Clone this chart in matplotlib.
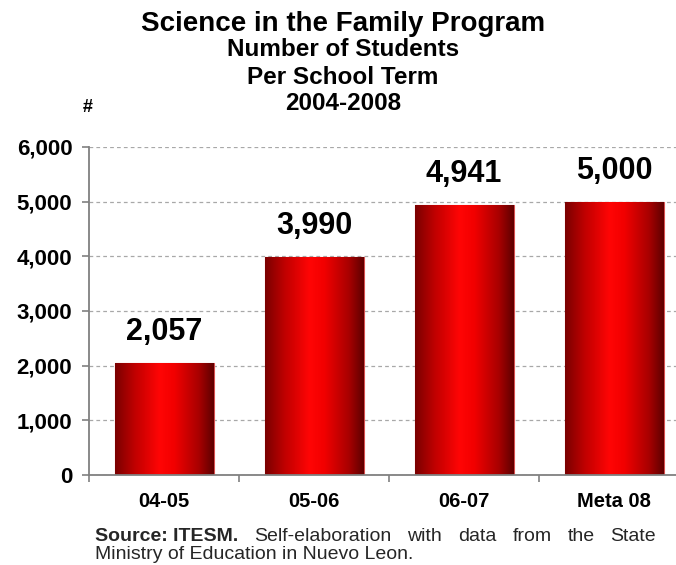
import matplotlib
matplotlib.use("Agg")
import matplotlib.pyplot as plt
import numpy as np
from matplotlib.colors import LinearSegmentedColormap
from matplotlib.ticker import FixedLocator, FuncFormatter

categories = ["04-05", "05-06", "06-07", "Meta 08"]
students = [2057, 3990, 4941, 5000]
yticks = [0, 1000, 2000, 3000, 4000, 5000, 6000]
title_lines = ["Science in the Family Program", "Number of Students", "Per School Term", "2004-2008"]
source_bold = "Source: ITESM."
source_line1 = "Self-elaboration with data from the State"
source_line2 = "Ministry of Education in Nuevo Leon."

plt.rcParams['font.family'] = ['Liberation Sans', 'DejaVu Sans']

W, H = 676, 565
fig = plt.figure(figsize=(W / 100, H / 100), dpi=100)
ax = fig.add_axes([89 / W, (H - 475) / H, (W - 89) / W, (475 - 147) / H])

x = np.arange(len(categories))
bars = ax.bar(x, students, width=0.66, color='#e00000', edgecolor='#d85050',
              linewidth=0.8, zorder=2)

cmap = LinearSegmentedColormap.from_list(
    'redgrad', [(0.0, '#7a0000'), (0.2, '#c00000'), (0.45, '#ff0505'),
                (0.6, '#f20000'), (0.85, '#a80000'), (1.0, '#5e0000')])
grad = np.linspace(0, 1, 256).reshape(1, -1)
for b in bars:
    bx, bw, bh = b.get_x(), b.get_width(), b.get_height()
    im = ax.imshow(grad, extent=[bx, bx + bw, 0, bh], aspect='auto', cmap=cmap,
                   zorder=2.1, interpolation='bilinear')
    im.set_clip_path(b)
    ax.annotate(f"{bh:,.0f}", xy=(bx + bw / 2, bh), xytext=(0, 16.5),
                textcoords='offset points', ha='center', va='baseline',
                fontsize=22, fontweight='bold', color='black', zorder=5)

ax.set_xlim(-0.5, -0.5 + (W - 89) / 150)
ax.set_ylim(0, 6000)

ax.set_yticks(yticks)
ax.yaxis.set_major_formatter(FuncFormatter(lambda v, p: f"{v:,.0f}"))
ax.tick_params(axis='y', direction='out', length=5, width=1.2, color='#808080',
               labelsize=16, pad=7)
for t in ax.get_yticklabels():
    t.set_fontweight('bold')

ax.set_xticks(x)
ax.set_xticklabels(categories, fontsize=14.5, fontweight='bold')
ax.tick_params(axis='x', which='major', length=0, pad=12)
ax.xaxis.set_minor_locator(FixedLocator(np.arange(len(categories)) - 0.5))
ax.tick_params(axis='x', which='minor', direction='out', length=5, width=1.2,
               color='#808080')

for s in ['top', 'right']:
    ax.spines[s].set_visible(False)
for s in ['left', 'bottom']:
    ax.spines[s].set_color('#808080')
    ax.spines[s].set_linewidth(1.3)

ax.yaxis.grid(True, linestyle=(0, (3, 2.5)), color='#a8a8a8', linewidth=0.9, zorder=0)
ax.set_axisbelow(True)

# Titles
ys = [24, 50, 77, 104]
sizes = [20, 17.5, 17.5, 17.5]
for line, yy, sz in zip(title_lines, ys, sizes):
    fig.text(343 / W, 1 - yy / H, line, ha='center', va='center', fontsize=sz,
             fontweight='bold', color='black')
fig.text(88 / W, 1 - 107 / H, "#", ha='center', va='center', fontsize=13,
         fontweight='bold')

# Source note, justified first line
src_color = '#262626'
fs = 14
x0, x1 = 95, 656
y1, y2 = 541, 559
fig.canvas.draw()
renderer = fig.canvas.get_renderer()
words = [(source_bold, 'bold')] + [(w, 'normal') for w in source_line1.split()]
texts = []
for w, wt in words:
    t = fig.text(0, 1 - y1 / H, w, ha='left', va='baseline', fontsize=fs,
                 fontweight=wt, color=src_color)
    texts.append(t)
widths = [t.get_window_extent(renderer).width for t in texts]
gap = (x1 - x0 - sum(widths)) / (len(texts) - 1)
cur = x0
for t, wd in zip(texts, widths):
    t.set_x(cur / W)
    cur += wd + gap
fig.text(x0 / W, 1 - y2 / H, source_line2, ha='left', va='baseline', fontsize=fs,
         color=src_color)

fig.savefig("out.png", dpi=100)
